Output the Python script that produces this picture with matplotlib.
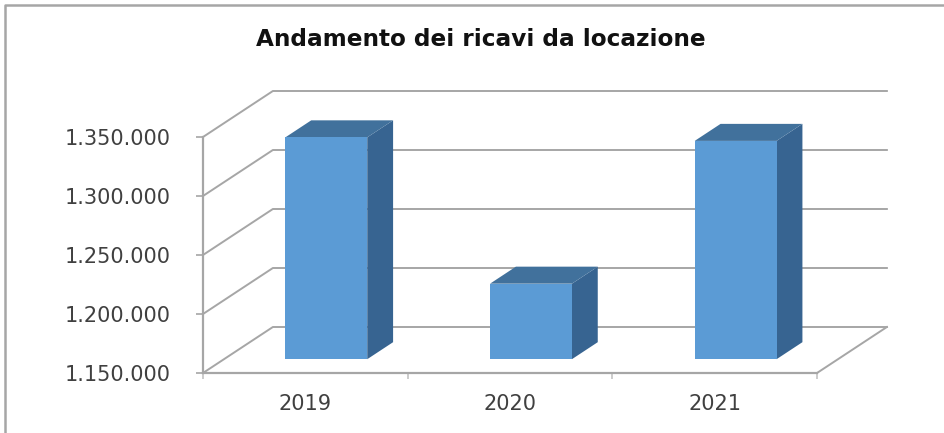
import matplotlib
matplotlib.use("Agg")
import matplotlib.pyplot as plt
from matplotlib.lines import Line2D
from matplotlib.patches import Polygon
from matplotlib.ticker import FuncFormatter

years = ["2019", "2020", "2021"]
ricavi = [1338000, 1214000, 1335000]
y_ticks = [1150000, 1200000, 1250000, 1300000, 1350000]

W, H = 945, 433
y_min, y_max = y_ticks[0], y_ticks[-1]

fig = plt.figure(figsize=(W / 100, H / 100), dpi=100)
ax = fig.add_axes([203 / W, 1 - 373 / H, (817 - 203) / W, (373 - 137) / H])
ax.set_xlim(0, 3)
ax.set_ylim(y_min, y_max)
ax.patch.set_alpha(0)

# how far the back wall sits from the front plane, in data units
depth_x = 70 / 205
depth_y = 46 / 236 * (y_max - y_min)


def proj(x, y, d):
    # d = 0 is the front plane, d = 1 the back wall
    return (x + d * depth_x, y + d * depth_y)


grid_col = "#A6A6A6"
for v in y_ticks:
    pts = [proj(0, v, 0), proj(0, v, 1), proj(3, v, 1)]
    ax.plot(*zip(*pts), color=grid_col, lw=1.4, clip_on=False, zorder=1)
# right edge of the floor
ax.plot(*zip(proj(3, y_min, 0), proj(3, y_min, 1)), color=grid_col, lw=1.4, clip_on=False, zorder=1)

# bars as three polygons: side, top, front
bar_w = 0.4
d0, d1 = 0.30, 0.67
for i, val in enumerate(ricavi):
    x0 = i + 0.5 - bar_w / 2
    x1 = i + 0.5 + bar_w / 2
    side = [proj(x1, y_min, d0), proj(x1, y_min, d1), proj(x1, val, d1), proj(x1, val, d0)]
    top = [proj(x0, val, d0), proj(x1, val, d0), proj(x1, val, d1), proj(x0, val, d1)]
    front = [proj(x0, y_min, d0), proj(x1, y_min, d0), proj(x1, val, d0), proj(x0, val, d0)]
    ax.add_patch(Polygon(side, fc="#376491", ec="none", clip_on=False, zorder=3))
    ax.add_patch(Polygon(top, fc="#41719C", ec="none", clip_on=False, zorder=3))
    ax.add_patch(Polygon(front, fc="#5B9BD5", ec="none", clip_on=False, zorder=4))

ax.set_yticks(y_ticks)
ax.yaxis.set_major_formatter(FuncFormatter(lambda v, pos: f"{int(v):,}".replace(",", ".")))
ax.set_xticks([0, 1, 2, 3])
ax.set_xticklabels([])
ax.set_xticks([0.5, 1.5, 2.5], minor=True)
ax.set_xticklabels(years, minor=True)
ax.tick_params(axis="y", length=5, width=1.2, color=grid_col, labelsize=15, labelcolor="#404040", pad=18)
ax.tick_params(axis="x", which="major", length=4, width=1.2, color="#C4C4C4")
ax.tick_params(axis="x", which="minor", length=0, labelsize=15, labelcolor="#404040", pad=15)

for s in ["top", "right"]:
    ax.spines[s].set_visible(False)
for s in ["left", "bottom"]:
    ax.spines[s].set_color(grid_col)
    ax.spines[s].set_linewidth(1.6)

fig.text(481 / W, 1 - 40 / H, "Andamento dei ricavi da locazione", ha="center", va="center",
         fontsize=16.7, fontweight="bold", color="#111111")

# border of the chart area, only top and left are visible
fig.add_artist(Line2D([5 / W, 5 / W, 1], [0, 1 - 5 / H, 1 - 5 / H], transform=fig.transFigure,
                      color="#A6A6A6", lw=1.8))

fig.savefig("out.png", dpi=100)
